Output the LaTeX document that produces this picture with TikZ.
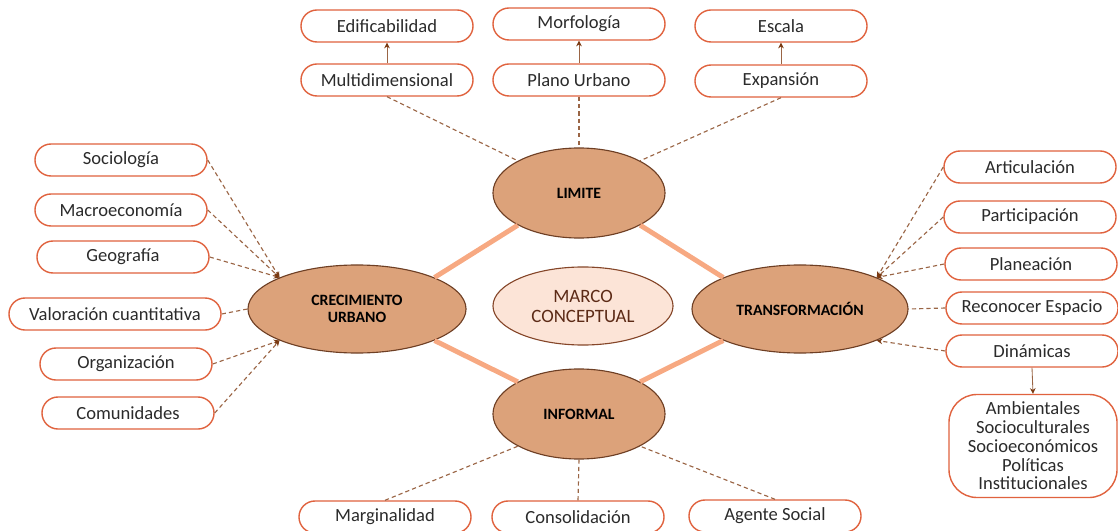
\documentclass[tikz,border=0pt]{standalone}
\usepackage{fontspec}
\setmainfont{Carlito}
\usetikzlibrary{shapes.geometric,shapes.misc,arrows.meta}
\definecolor{borde}{HTML}{E0623E}
\definecolor{piel}{HTML}{DCA27A}
\definecolor{cafe}{HTML}{6E3F24}
\definecolor{rosa}{HTML}{FCE4D7}
\definecolor{salmon}{HTML}{F7A982}
\definecolor{punteo}{HTML}{9A6545}
\definecolor{punta}{HTML}{7A3A12}
\definecolor{texto}{HTML}{2B2B2B}
\definecolor{marron}{HTML}{5C2A16}

\begin{document}
\begin{tikzpicture}[x=0.025cm,y=-0.025cm]
	\tikzstyle{Hoja} = [rounded rectangle, minimum width=4.3cm, minimum height=8mm, inner sep=0pt, text centered, draw=borde, line width=1pt, fill=white, text=texto, font=\fontsize{13.2}{13.4}\selectfont]
	\tikzstyle{Caja} = [rectangle, rounded corners=7mm, minimum width=4.2cm, minimum height=2.575cm, inner sep=0pt, align=center, draw=borde, line width=1pt, fill=white, text=texto, font=\fontsize{13.2}{13.3}\selectfont]
	\tikzstyle{Eje} = [ellipse, minimum width=4.3cm, minimum height=2.25cm, inner sep=0pt, align=center, draw=cafe, line width=0.8pt, fill=piel, text=black, font=\bfseries\fontsize{11.2}{12.5}\selectfont]
	\tikzstyle{Centro} = [ellipse, minimum width=4.5cm, minimum height=1.95cm, inner sep=0pt, align=center, draw=cafe!80!borde, line width=0.8pt, fill=rosa, text=marron, font=\fontsize{13.4}{14.2}\selectfont]
	\tikzstyle{Enlace} = [line width=3.5pt, draw=salmon]
	\tikzstyle{Traza} = [line width=0.8pt, draw=punteo, dash pattern=on 3pt off 2.2pt]
	\tikzstyle{flecha} = [line width=0.6pt, draw=punteo, -{Stealth[length=4pt, width=4pt, color=punta]}]
	
	\useasboundingbox (0,0) rectangle (1118,531);
	
	% ejes
	\node (limite) [Eje] at (579,193) {LIMITE};
	\node (crec) [Eje, minimum width=5.45cm, minimum height=2.2cm] at (357,309) {CRECIMIENTO\\URBANO};
	\node (transf) [Eje, minimum width=5.4cm, minimum height=2.2cm] at (800,309) {TRANSFORMACIÓN};
	\node (informal) [Eje] at (579,414) {INFORMAL};
	\node (marco) [Centro] at (583,306) {MARCO\\CONCEPTUAL};
	
	\draw [Enlace] (limite.south west) -- (crec.north east);
	\draw [Enlace] (limite.south east) -- (transf.north west);
	\draw [Enlace] (crec.south east) -- (informal.north west);
	\draw [Enlace] (transf.south west) -- (informal.north east);
	
	% arriba
	\node (edif) [Hoja] at (387,26) {Edificabilidad};
	\node (morf) [Hoja] at (579,24) {Morfología};
	\node (escala) [Hoja] at (781,26) {Escala};
	\node (multi) [Hoja] at (387,80) {Multidimensional};
	\node (plano) [Hoja] at (579,80) {Plano Urbano};
	\node (expan) [Hoja] at (781,81) {Expansión};
	\draw [flecha] (multi.north) -- (edif.south);
	\draw [flecha] (plano.north) -- (morf.south);
	\draw [flecha] (expan.north) -- (escala.south);
	\draw [Traza] (multi.south) -- (limite.north west);
	\draw [Traza] (plano.south) -- (limite.north);
	\draw [Traza] (expan.south) -- (limite.north east);
	
	% izquierda
	\node (socio) [Hoja] at (121,160) {Sociología};
	\node (macro) [Hoja] at (121,210) {Macroeconomía};
	\node (geo) [Hoja] at (123,257) {Geografía};
	\node (valor) [Hoja, minimum width=5.3cm] at (115,314) {Valoración cuantitativa};
	\node (organ) [Hoja] at (126,364) {Organización};
	\node (comun) [Hoja] at (128,413) {Comunidades};
	\foreach \h in {socio, macro, geo}
		\draw [Traza, -{Stealth[length=4pt, width=4pt, color=punta]}] (\h.east) -- (crec.north west);
	\draw [Traza] (valor.east) -- (crec.west);
	\foreach \h in {organ, comun}
		\draw [Traza, -{Stealth[length=4pt, width=4pt, color=punta]}] (\h.east) -- (crec.south west);
	
	% derecha
	\node (artic) [Hoja] at (1030,167) {Articulación};
	\node (partic) [Hoja] at (1030,217) {Participación};
	\node (planea) [Hoja] at (1031,264) {Planeación};
	\node (recon) [Hoja] at (1032,308) {Reconocer Espacio};
	\node (dinam) [Hoja] at (1032,351) {Dinámicas};
	\node (dims) [Caja] at (1033,446) {Ambientales\\Socioculturales\\Socioeconómicos\\Políticas\\Institucionales};
	\foreach \h in {artic, partic, planea}
		\draw [Traza, -{Stealth[length=4pt, width=4pt, color=punta]}] (\h.west) -- (transf.north east);
	\draw [Traza] (recon.west) -- (transf.east);
	\draw [Traza, -{Stealth[length=4pt, width=4pt, color=punta]}] (dinam.west) -- (transf.south east);
	\draw [flecha] (dinam.south) -- (dims.north);
	
	% abajo
	\node (margin) [Hoja] at (385,517) {Marginalidad};
	\node (consol) [Hoja] at (578,517) {Consolidación};
	\node (agente) [Hoja] at (775,516) {Agente Social};
	\draw [Traza] (margin.north) -- (informal.south west);
	\draw [Traza] (consol.north) -- (informal.south);
	\draw [Traza] (agente.north) -- (informal.south east);
\end{tikzpicture}
\end{document}
